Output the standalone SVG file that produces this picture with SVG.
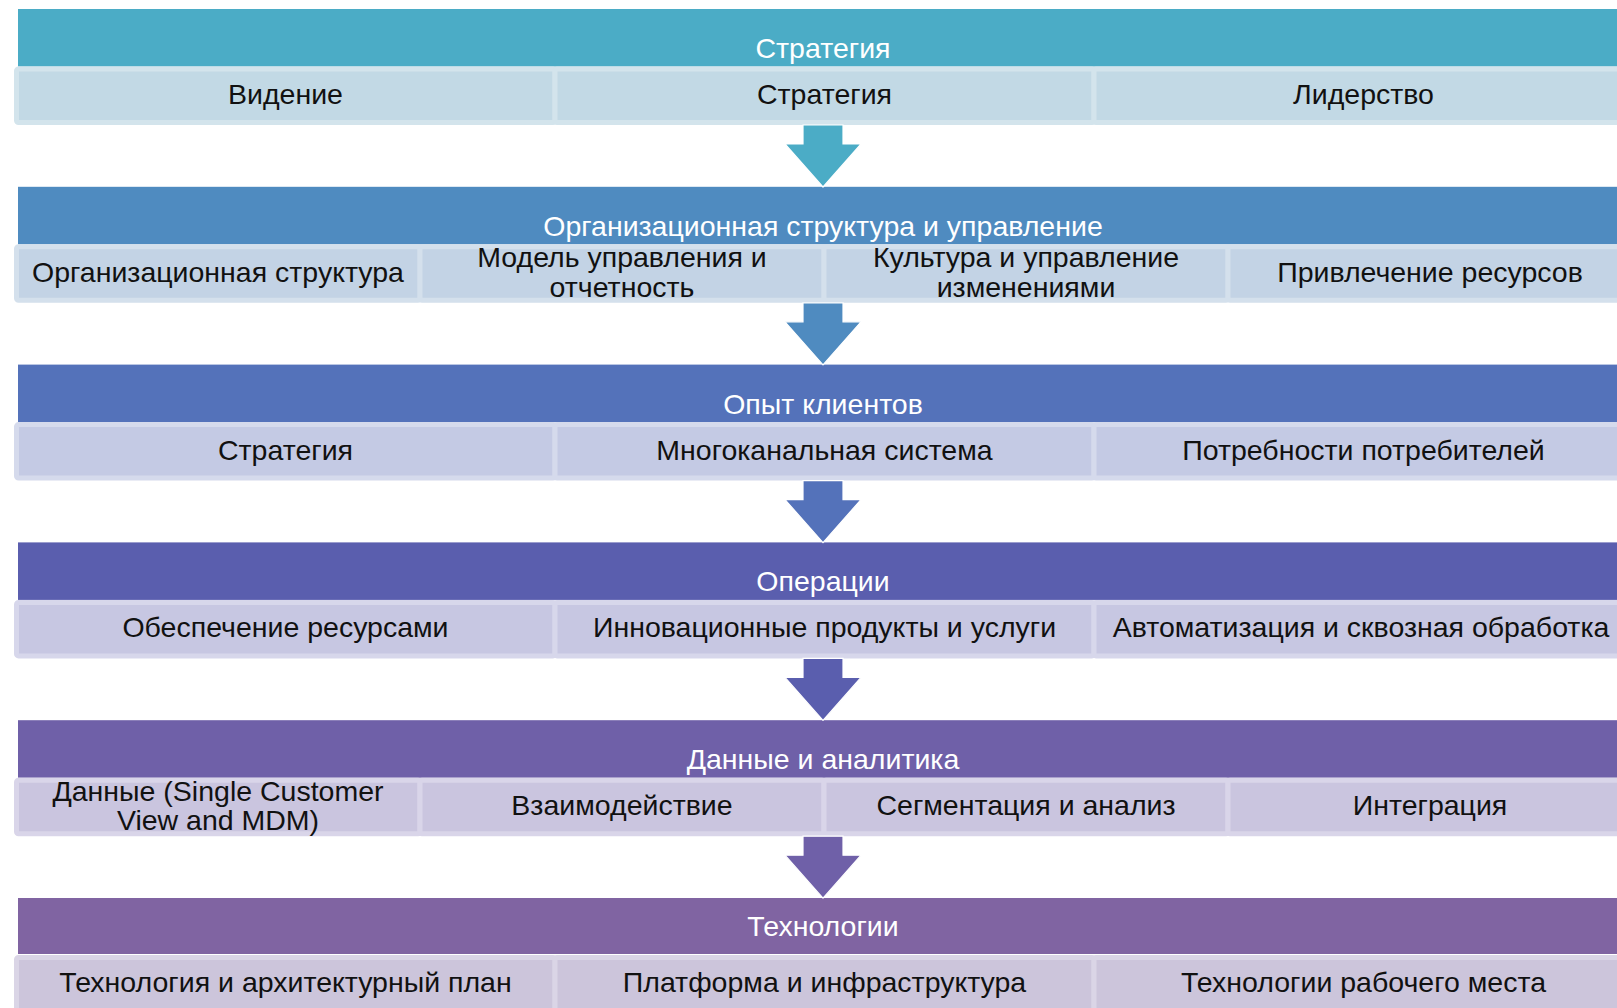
<svg xmlns="http://www.w3.org/2000/svg" width="1617" height="1008" viewBox="0 0 1617 1008">
  <style>
    .title { font-family: "Liberation Sans", Arial, sans-serif; font-size: 28.5px; fill: #ffffff; text-anchor: middle; }
    .item { font-family: "Liberation Sans", Arial, sans-serif; font-size: 28.5px; fill: #111111; text-anchor: middle; }
    .cell { stroke-width: 5; }
    .arrow { stroke: #ffffff; stroke-width: 1.2; stroke-linejoin: miter; }
  </style>
  <rect x="0" y="0" width="1617" height="1008" fill="#ffffff"/>

  <!-- Layer 1: strategy -->
  <g id="strategy">
    <rect x="18" y="9" width="1610" height="57.5" fill="#4BACC6"/>
    <text class="title" x="823" y="58">Стратегия</text>
    <g fill="#C2D9E5" stroke="#D3E4EC" class="cell">
      <rect x="16.5" y="69" width="538.5" height="53.5" rx="2"/>
      <rect x="555" y="69" width="539" height="53.5" rx="2"/>
      <rect x="1094" y="69" width="539" height="53.5" rx="2"/>
    </g>
    <text class="item" x="285.5" y="104">Видение</text>
    <text class="item" x="824.5" y="104">Стратегия</text>
    <text class="item" x="1363.5" y="104">Лидерство</text>
  </g>

  <!-- Layer 2: organisation and governance -->
  <g id="organization">
    <rect x="18" y="186.8" width="1610" height="57.5" fill="#4F8BC0"/>
    <text class="title" x="823" y="235.8">Организационная структура и управление</text>
    <g fill="#C3D3E5" stroke="#D4E0EC" class="cell">
      <rect x="16.5" y="246.8" width="403.5" height="53.5" rx="2"/>
      <rect x="420" y="246.8" width="404" height="53.5" rx="2"/>
      <rect x="824" y="246.8" width="404" height="53.5" rx="2"/>
      <rect x="1228" y="246.8" width="404" height="53.5" rx="2"/>
    </g>
    <text class="item" x="218" y="281.8">Организационная структура</text>
    <text class="item" x="622" y="267.3">Модель управления и</text>
    <text class="item" x="622" y="296.8">отчетность</text>
    <text class="item" x="1026" y="267.3">Культура и управление</text>
    <text class="item" x="1026" y="296.8">изменениями</text>
    <text class="item" x="1430" y="281.8">Привлечение ресурсов</text>
  </g>

  <!-- Layer 3: customer experience -->
  <g id="customer">
    <rect x="18" y="364.6" width="1610" height="57.5" fill="#5472BA"/>
    <text class="title" x="823" y="413.6">Опыт клиентов</text>
    <g fill="#C4CAE4" stroke="#D5DAEC" class="cell">
      <rect x="16.5" y="424.6" width="538.5" height="53.5" rx="2"/>
      <rect x="555" y="424.6" width="539" height="53.5" rx="2"/>
      <rect x="1094" y="424.6" width="539" height="53.5" rx="2"/>
    </g>
    <text class="item" x="285.5" y="459.6">Стратегия</text>
    <text class="item" x="824.5" y="459.6">Многоканальная система</text>
    <text class="item" x="1363.5" y="459.6">Потребности потребителей</text>
  </g>

  <!-- Layer 4: operations -->
  <g id="operations">
    <rect x="18" y="542.4" width="1610" height="57.5" fill="#5A5EAE"/>
    <text class="title" x="823" y="591.4">Операции</text>
    <g fill="#C7C7E2" stroke="#D7D7EB" class="cell">
      <rect x="16.5" y="602.4" width="538.5" height="53.5" rx="2"/>
      <rect x="555" y="602.4" width="539" height="53.5" rx="2"/>
      <rect x="1094" y="602.4" width="539" height="53.5" rx="2"/>
    </g>
    <text class="item" x="285.5" y="637.4">Обеспечение ресурсами</text>
    <text class="item" x="824.5" y="637.4">Инновационные продукты и услуги</text>
    <text class="item" x="1361" y="637.4">Автоматизация и сквозная обработка</text>
  </g>

  <!-- Layer 5: data and analytics -->
  <g id="data">
    <rect x="18" y="720.2" width="1610" height="57.5" fill="#6F60A8"/>
    <text class="title" x="823" y="769.2">Данные и аналитика</text>
    <g fill="#CAC5DF" stroke="#D9D5E9" class="cell">
      <rect x="16.5" y="780.2" width="403.5" height="53.5" rx="2"/>
      <rect x="420" y="780.2" width="404" height="53.5" rx="2"/>
      <rect x="824" y="780.2" width="404" height="53.5" rx="2"/>
      <rect x="1228" y="780.2" width="404" height="53.5" rx="2"/>
    </g>
    <text class="item" x="218" y="800.7">Данные (Single Customer</text>
    <text class="item" x="218" y="830.2">View and MDM)</text>
    <text class="item" x="622" y="815.2">Взаимодействие</text>
    <text class="item" x="1026" y="815.2">Сегментация и анализ</text>
    <text class="item" x="1430" y="815.2">Интеграция</text>
  </g>

  <!-- Layer 6: technology -->
  <g id="technology">
    <rect x="18" y="898" width="1610" height="56" fill="#8064A2"/>
    <text class="title" x="823" y="936">Технологии</text>
    <g fill="#CCC5DB" stroke="#DAD5E6" class="cell">
      <rect x="16.5" y="957.5" width="538.5" height="53.5" rx="2"/>
      <rect x="555" y="957.5" width="539" height="53.5" rx="2"/>
      <rect x="1094" y="957.5" width="539" height="53.5" rx="2"/>
    </g>
    <text class="item" x="285.5" y="991.5">Технология и архитектурный план</text>
    <text class="item" x="824.5" y="991.5">Платформа и инфраструктура</text>
    <text class="item" x="1363.5" y="991.5">Технологии рабочего места</text>
  </g>

  <!-- Downward arrows between layers -->
  <g id="connectors">
    <path class="arrow" fill="#4BACC6" d="M803,125 H843 V144 H861 L823,187 L785,144 H803 Z"/>
    <path class="arrow" fill="#4F8BC0" d="M803,302.8 H843 V321.8 H861 L823,364.8 L785,321.8 H803 Z"/>
    <path class="arrow" fill="#5472BA" d="M803,480.6 H843 V499.6 H861 L823,542.6 L785,499.6 H803 Z"/>
    <path class="arrow" fill="#5A5EAE" d="M803,658.4 H843 V677.4 H861 L823,720.4 L785,677.4 H803 Z"/>
    <path class="arrow" fill="#6F60A8" d="M803,836.2 H843 V855.2 H861 L823,898.2 L785,855.2 H803 Z"/>
  </g>
</svg>
